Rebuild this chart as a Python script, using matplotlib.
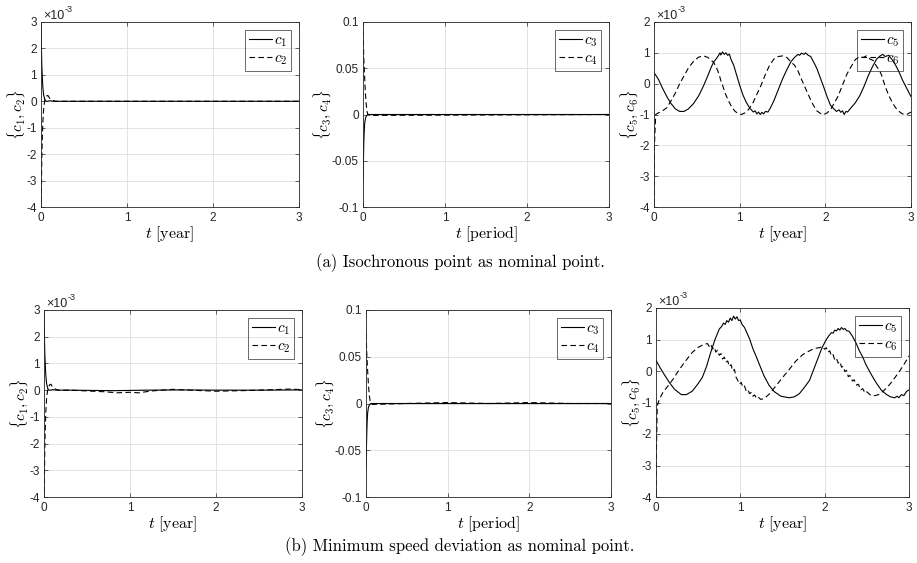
import numpy as np
import matplotlib
matplotlib.use("Agg")
import matplotlib.pyplot as plt

plt.rcParams["font.family"] = ["Liberation Sans", "DejaVu Sans"]
plt.rcParams["mathtext.fontset"] = "cm"

# ---- data (c1,c2,c5,c6 in units of 1e-3) ----
# (a) isochronous point
a_t1 = [0, 0.005, 0.01, 0.02, 0.03, 0.045, 0.06, 0.08, 0.1, 0.15, 0.3, 1.0, 2.0, 3.0]
a_c1 = [2.8, 2.0, 1.3, 0.6, 0.25, 0.05, 0.0, 0.0, 0.02, 0.0, 0.0, 0.0, 0.0, 0.0]
a_t2 = [0, 0.005, 0.01, 0.02, 0.03, 0.04, 0.05, 0.065, 0.08, 0.1, 0.13, 0.17, 0.3, 1.0, 2.0, 3.0]
a_c2 = [-4.5, -3.2, -2.0, -0.9, -0.3, -0.05, 0.1, 0.2, 0.22, 0.12, 0.04, 0.0, 0.0, 0.0, 0.0, 0.0]

a_t3 = [0, 0.005, 0.01, 0.015, 0.02, 0.03, 0.045, 0.06, 3.0]
a_c3 = [-0.072, -0.05, -0.03, -0.018, -0.01, -0.004, -0.001, 0.0, 0.0]
a_t4 = [0, 0.005, 0.01, 0.02, 0.03, 0.04, 0.05, 0.06, 0.08, 3.0]
a_c4 = [0.09, 0.075, 0.06, 0.04, 0.022, 0.01, 0.003, 0.0, -0.001, 0.0]

a_t5 = [0, 0.05, 0.10, 0.15, 0.20, 0.25, 0.30, 0.35, 0.40, 0.46, 0.52, 0.57, 0.62, 0.67,
        0.70, 0.73, 0.75, 0.77, 0.78, 0.80, 0.82, 0.84, 0.86, 0.88, 0.90, 0.93, 0.96, 1.00,
        1.04, 1.08, 1.12, 1.16, 1.18, 1.20, 1.22, 1.24, 1.26, 1.28, 1.30, 1.33, 1.36, 1.40,
        1.45, 1.50, 1.55, 1.60, 1.64, 1.68, 1.70, 1.72, 1.75, 1.77, 1.80, 1.83, 1.86, 1.90,
        1.94, 1.98, 2.02, 2.06, 2.10, 2.13, 2.16, 2.18, 2.20, 2.22, 2.24, 2.26, 2.30, 2.35,
        2.40, 2.45, 2.50, 2.55, 2.60, 2.64, 2.67, 2.70, 2.74, 2.78, 2.82, 2.86, 2.90, 2.95, 3.00]
a_c5 = [0.36, 0.15, -0.15, -0.42, -0.65, -0.82, -0.9, -0.9, -0.82, -0.65, -0.4, -0.12, 0.2, 0.55,
        0.72, 0.82, 0.9, 1.0, 0.93, 1.03, 0.95, 1.0, 0.92, 0.96, 0.78, 0.6, 0.32, -0.05,
        -0.38, -0.62, -0.8, -0.92, -0.88, -0.98, -0.92, -1.0, -0.93, -0.98, -0.9, -0.92, -0.78, -0.55,
        -0.2, 0.15, 0.45, 0.72, 0.85, 0.95, 0.92, 0.99, 0.95, 1.0, 0.92, 0.88, 0.72, 0.5,
        0.2, -0.1, -0.42, -0.7, -0.82, -0.9, -0.85, -0.93, -0.88, -1.0, -0.9, -0.92, -0.78, -0.62,
        -0.4, -0.1, 0.25, 0.55, 0.8, 0.9, 0.95, 0.88, 0.92, 0.78, 0.6, 0.38, 0.12, -0.15, -0.42]
a_t6 = [0, 0.005, 0.02, 0.05, 0.10, 0.15, 0.20, 0.25, 0.30, 0.35, 0.40, 0.46, 0.52, 0.58,
        0.63, 0.67, 0.70, 0.72, 0.74, 0.76, 0.78, 0.80, 0.83, 0.86, 0.90, 0.94, 0.98, 1.02,
        1.06, 1.10, 1.15, 1.20, 1.25, 1.30, 1.35, 1.40, 1.45, 1.50, 1.55, 1.60, 1.64, 1.68,
        1.72, 1.76, 1.80, 1.85, 1.90, 1.95, 1.98, 2.02, 2.06, 2.10, 2.15, 2.20, 2.25, 2.30,
        2.35, 2.40, 2.44, 2.48, 2.52, 2.56, 2.60, 2.63, 2.66, 2.70, 2.74, 2.78, 2.82, 2.86,
        2.90, 2.95, 3.00]
a_c6 = [-4.2, -2.0, -1.0, -0.95, -0.88, -0.78, -0.55, -0.3, 0.0, 0.25, 0.5, 0.72, 0.86, 0.9,
        0.85, 0.75, 0.68, 0.55, 0.45, 0.3, 0.1, -0.05, -0.3, -0.5, -0.72, -0.88, -0.97, -1.0,
        -0.95, -0.85, -0.65, -0.35, -0.05, 0.3, 0.6, 0.8, 0.88, 0.9, 0.85, 0.7, 0.6, 0.42,
        0.15, -0.1, -0.35, -0.65, -0.88, -0.98, -1.0, -0.95, -0.85, -0.65, -0.4, -0.05, 0.3, 0.55,
        0.78, 0.88, 0.85, 0.9, 0.8, 0.75, 0.55, 0.45, 0.25, -0.1, -0.38, -0.6, -0.78, -0.9,
        -0.98, -1.0, -0.92]

# (b) minimum speed deviation
b_t1 = [0, 0.005, 0.01, 0.02, 0.03, 0.045, 0.06, 0.08, 0.1, 0.15, 0.3, 0.8, 1.2, 1.6, 2.0, 2.5, 3.0]
b_c1 = [2.8, 2.0, 1.3, 0.6, 0.25, 0.05, 0.0, 0.0, 0.02, 0.0, 0.0, -0.02, 0.0, 0.01, 0.0, 0.0, 0.01]
b_t2 = [0, 0.005, 0.01, 0.02, 0.03, 0.04, 0.05, 0.065, 0.08, 0.1, 0.13, 0.17, 0.3, 0.5, 0.7,
        0.85, 1.0, 1.1, 1.25, 1.5, 1.7, 2.0, 2.3, 2.6, 2.85, 3.0]
b_c2 = [-4.5, -3.2, -2.0, -0.9, -0.3, -0.05, 0.1, 0.2, 0.22, 0.12, 0.04, 0.0, 0.0, -0.03, -0.06,
        -0.1, -0.08, -0.1, -0.03, 0.03, 0.0, -0.04, -0.02, 0.01, 0.04, 0.02]

b_t3 = [0, 0.005, 0.01, 0.015, 0.02, 0.03, 0.045, 0.06, 1.0, 2.0, 3.0]
b_c3 = [-0.07, -0.048, -0.03, -0.018, -0.01, -0.004, -0.001, 0.0, 0.0, 0.0, 0.0]
b_t4 = [0, 0.005, 0.01, 0.02, 0.03, 0.04, 0.05, 0.06, 0.08, 0.5, 1.0, 1.5, 2.0, 2.5, 3.0]
b_c4 = [0.075, 0.065, 0.052, 0.035, 0.02, 0.009, 0.003, 0.0, -0.001, 0.0, 0.001, 0.0, 0.001, 0.0, 0.0]

b_t5 = [0, 0.05, 0.10, 0.16, 0.22, 0.30, 0.36, 0.43, 0.50, 0.55, 0.60, 0.65, 0.70, 0.75,
        0.78, 0.80, 0.82, 0.84, 0.86, 0.88, 0.90, 0.92, 0.94, 0.96, 0.98, 1.00, 1.02, 1.05,
        1.08, 1.11, 1.15, 1.19, 1.23, 1.28, 1.34, 1.40, 1.48, 1.58, 1.64, 1.70, 1.76, 1.82,
        1.87, 1.92, 1.97, 2.02, 2.05, 2.08, 2.10, 2.12, 2.14, 2.16, 2.18, 2.20, 2.22, 2.24,
        2.26, 2.29, 2.33, 2.37, 2.41, 2.45, 2.49, 2.55, 2.61, 2.67, 2.73, 2.78, 2.83, 2.86,
        2.88, 2.91, 2.94, 2.97, 3.00]
b_c5 = [0.34, 0.1, -0.12, -0.37, -0.58, -0.75, -0.75, -0.64, -0.4, -0.2, 0.15, 0.6, 1.0, 1.33,
        1.42, 1.52, 1.48, 1.6, 1.55, 1.68, 1.6, 1.74, 1.65, 1.72, 1.6, 1.62, 1.48, 1.38,
        1.2, 1.02, 0.7, 0.45, 0.18, -0.15, -0.45, -0.65, -0.8, -0.85, -0.82, -0.72, -0.52, -0.3,
        0.05, 0.4, 0.75, 1.0, 1.12, 1.22, 1.2, 1.3, 1.27, 1.35, 1.3, 1.38, 1.32, 1.35,
        1.28, 1.26, 1.1, 0.9, 0.65, 0.45, 0.2, -0.1, -0.37, -0.6, -0.74, -0.82, -0.85, -0.8,
        -0.85, -0.75, -0.78, -0.65, -0.6]
b_t6 = [0, 0.005, 0.015, 0.04, 0.08, 0.14, 0.20, 0.26, 0.32, 0.38, 0.43, 0.50, 0.57, 0.61,
        0.63, 0.65, 0.67, 0.69, 0.71, 0.73, 0.75, 0.77, 0.79, 0.81, 0.83, 0.85, 0.87, 0.89,
        0.91, 0.93, 0.95, 0.97, 0.99, 1.01, 1.03, 1.05, 1.07, 1.09, 1.11, 1.13, 1.15, 1.17,
        1.19, 1.21, 1.24, 1.28, 1.34, 1.42, 1.50, 1.58, 1.66, 1.74, 1.82, 1.88, 1.94, 1.97,
        2.00, 2.02, 2.04, 2.06, 2.08, 2.10, 2.12, 2.14, 2.16, 2.18, 2.20, 2.22, 2.24, 2.26,
        2.28, 2.30, 2.33, 2.35, 2.38, 2.40, 2.43, 2.45, 2.48, 2.50, 2.55, 2.60, 2.65, 2.71,
        2.77, 2.83, 2.89, 2.95, 3.00]
b_c6 = [-4.2, -2.5, -1.1, -0.9, -0.69, -0.48, -0.27, -0.02, 0.21, 0.42, 0.59, 0.75, 0.85, 0.87,
        0.78, 0.85, 0.7, 0.76, 0.6, 0.66, 0.5, 0.55, 0.38, 0.44, 0.28, 0.32, 0.14, 0.2,
        0.0, 0.05, -0.2, -0.3, -0.42, -0.36, -0.52, -0.48, -0.64, -0.6, -0.72, -0.68, -0.8, -0.76,
        -0.86, -0.82, -0.9, -0.88, -0.74, -0.48, -0.21, 0.05, 0.32, 0.52, 0.64, 0.72, 0.74, 0.78,
        0.69, 0.74, 0.6, 0.64, 0.48, 0.52, 0.35, 0.4, 0.25, 0.3, 0.12, 0.15, -0.02, 0.02,
        -0.18, -0.14, -0.32, -0.28, -0.45, -0.42, -0.6, -0.56, -0.7, -0.66, -0.78, -0.78, -0.74, -0.6,
        -0.43, -0.22, 0.0, 0.25, 0.48]

x_ticks = [0, 1, 2, 3]
y_ticks_e3 = [-4, -3, -2, -1, 0, 1, 2, 3]
y_ticks_e3_b = [-4, -3, -2, -1, 0, 1, 2]
y_ticks_mid = [-0.1, -0.05, 0, 0.05, 0.1]
y_labels_mid = ["-0.1", "-0.05", "0", "0.05", "0.1"]

DARK = "0.15"
W, H = 917, 563


def box(l, t, r, b):
    return [l / W, 1 - b / H, (r - l) / W, (b - t) / H]


def style(ax, yticks, ylabels, xlabel, ylabel, exp=False):
    ax.set_xlim(0, 3)
    ax.set_ylim(yticks[0], yticks[-1])
    ax.set_xticks(x_ticks)
    ax.set_xticklabels([str(v) for v in x_ticks])
    ax.set_yticks(yticks)
    ax.set_yticklabels(ylabels)
    ax.grid(True, color="#dedede", lw=0.6)
    ax.set_axisbelow(True)
    ax.tick_params(direction="in", length=3, width=0.5, top=True, right=True,
                   labelsize=8.5, colors=DARK, labelcolor=DARK)
    ax.tick_params(axis="x", pad=3.5)
    ax.tick_params(axis="y", pad=3)
    for s in ax.spines.values():
        s.set_color(DARK)
        s.set_linewidth(0.6)
    ax.set_xlabel(xlabel, fontsize=11.5, labelpad=0.5)
    ax.set_ylabel(ylabel, fontsize=11, labelpad=-0.5)
    if exp:
        ax.annotate("×10", (0, 1), xycoords="axes fraction", xytext=(2, 3),
                    textcoords="offset pixels", fontsize=9, color=DARK,
                    ha="left", va="baseline")
        ax.annotate("-3", (0, 1), xycoords="axes fraction", xytext=(24, 10),
                    textcoords="offset pixels", fontsize=6.5, color=DARK,
                    ha="left", va="baseline")
    leg = ax.legend(loc="upper right", fontsize=11, handlelength=1.5, handletextpad=0.15,
                    borderpad=0.25, labelspacing=0.15, borderaxespad=0.5, fancybox=False,
                    facecolor="none", edgecolor=DARK)
    leg.get_frame().set_linewidth(0.6)


def lines(ax, ta, ya, tb, yb, la, lb):
    ax.plot(ta, ya, color="k", lw=0.8, label=la)
    ax.plot(tb, yb, color="k", lw=0.8, ls=(0, (5, 3)), label=lb)


fig = plt.figure(figsize=(W / 100, H / 100), dpi=100)

panels = [
    (box(41, 22, 299, 207), a_t1, a_c1, a_t2, a_c2, 1, 2, "year"),
    (box(363, 22, 609, 207), a_t3, a_c3, a_t4, a_c4, 3, 4, "period"),
    (box(654, 22, 911, 207), a_t5, a_c5, a_t6, a_c6, 5, 6, "year"),
    (box(44, 310, 302, 497), b_t1, b_c1, b_t2, b_c2, 1, 2, "year"),
    (box(366, 310, 611, 497), b_t3, b_c3, b_t4, b_c4, 3, 4, "period"),
    (box(656, 308, 909, 497), b_t5, b_c5, b_t6, b_c6, 5, 6, "year"),
]

for i, (pos, ta, ya, tb, yb, i1, i2, unit) in enumerate(panels):
    ax = fig.add_axes(pos)
    lines(ax, ta, ya, tb, yb, rf"$c_{i1}$", rf"$c_{i2}$")
    xl = rf"$t\ [\mathrm{{{unit}}}]$"
    yl = rf"$\{{c_{i1}, c_{i2}\}}$"
    if i1 == 3:
        style(ax, y_ticks_mid, y_labels_mid, xl, yl)
    elif i1 == 5:
        style(ax, y_ticks_e3_b, [str(v) for v in y_ticks_e3_b], xl, yl, exp=True)
    else:
        style(ax, y_ticks_e3, [str(v) for v in y_ticks_e3], xl, yl, exp=True)

fig.text(460 / W, 1 - 263 / H, "(a) Isochronous point as nominal point.",
         family="cmr10", fontsize=12, ha="center", va="center")
fig.text(460 / W, 1 - 547 / H, "(b) Minimum speed deviation as nominal point.",
         family="cmr10", fontsize=12, ha="center", va="center")

fig.savefig("out.png", dpi=100)
